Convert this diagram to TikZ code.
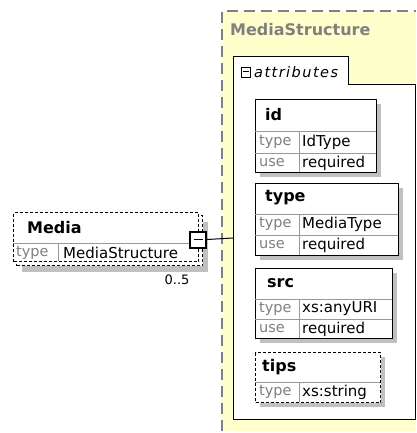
\documentclass[tikz,border=0pt]{standalone}
\usepackage{fontspec}
\usetikzlibrary{calc}
\setmainfont{Liberation Sans}
\newfontfamily\dvs{DejaVu Sans}
\definecolor{ybg}{RGB}{255,255,204}
\definecolor{shd}{RGB}{192,192,192}
\definecolor{lgray}{RGB}{128,128,128}
\begin{document}
\begin{tikzpicture}[x=1pt,y=-1pt,
  hdr/.style={font=\dvs\bfseries\fontsize{16}{16}\selectfont, anchor=west, inner sep=0pt},
  ttl/.style={hdr, text=lgray},
  lbl/.style={font=\dvs\fontsize{14.5}{14.5}\selectfont, text=lgray, anchor=west, inner sep=0pt},
  val/.style={font=\dvs\fontsize{15}{15}\selectfont, anchor=west, inner sep=0pt},
  ebox/.style={draw=black, line width=1.2pt, fill=white},
  edash/.style={ebox, dashed, dash pattern=on 3pt off 2pt},
  sep/.style={draw=lgray!80, line width=0.8pt},
  shadow/.style={fill=shd, draw=none}]
\useasboundingbox (0,0) rectangle (416,433);

% outer MediaStructure region
\fill[ybg] (222,11) rectangle (416,431);
\draw[lgray, line width=1.2pt, dash pattern=on 11pt off 6pt] (222,431) -- (222,11) -- (416,11);
\node[ttl] (msttl) at (230,30) {MediaStructure};

% attributes compartment
\draw[fill=white, line width=1pt] (233,419) -- (233,57) -- (348,57) -- (348,85) -- (415,85) -- (415,419) -- cycle;
\coordinate (attrleft) at (233,238);
\node[draw, line width=1.2pt, minimum width=9pt, minimum height=10pt, inner sep=0pt, anchor=north west] (attrminus) at (241,67) {\rule[2.4pt]{6pt}{1.2pt}};
\node[font=\dvs\itshape\fontsize{14.5}{14.5}\selectfont, anchor=west, inner sep=0pt] (attrlbl) at (254,72) {\addfontfeature{LetterSpace=10}attributes};

% id
\fill[shd] (260,104) rectangle (381,177);
\node[ebox, minimum width=121pt, minimum height=73pt, anchor=north west, inner sep=0pt] (idbox) at (255,99) {};
\draw[sep] (255,131) -- (376,131) (255,153) -- (376,153) (299,131) -- (299,172);
\node[hdr] (idn) at (265,115) {id};
\node[lbl] (idt) at (259,142) {type};
\node[val] (idv) at (302,142) {IdType};
\node[lbl] (idu) at (259,163) {use};
\node[val] (idr) at (302,163) {required};

% type
\fill[shd] (260,188) rectangle (403,260);
\node[ebox, minimum width=143pt, minimum height=72pt, anchor=north west, inner sep=0pt] (typebox) at (255,183) {};
\draw[sep] (255,214) -- (398,214) (255,235) -- (398,235) (299,214) -- (299,255);
\node[hdr] (typen) at (265,198) {type};
\node[lbl] (typet) at (259,224) {type};
\node[val] (typev) at (302,224) {MediaType};
\node[lbl] (typeu) at (259,245) {use};
\node[val] (typer) at (302,245) {required};

% src
\fill[shd] (260,273) rectangle (397,343);
\node[ebox, minimum width=137pt, minimum height=70pt, anchor=north west, inner sep=0pt] (srcbox) at (255,268) {};
\draw[sep] (255,299) -- (392,299) (255,319) -- (392,319) (299,299) -- (299,338);
\node[hdr] (srcn) at (267,283) {src};
\node[lbl] (srct) at (259,309) {type};
\node[val] (srcv) at (302,309) {xs:anyURI};
\node[lbl] (srcu) at (259,329) {use};
\node[val] (srcr) at (302,329) {required};

% tips
\fill[shd] (260,357) rectangle (385,407);
\node[edash, minimum width=125pt, minimum height=50pt, anchor=north west, inner sep=0pt] (tipsbox) at (255,352) {};
\draw[sep] (255,382) -- (380,382) (299,382) -- (299,402);
\node[hdr] (tipsn) at (262,367) {tips};
\node[lbl] (tipst) at (259,392) {type};
\node[val] (tipsv) at (302,392) {xs:string};

% Media element
\fill[shd] (22,222) rectangle (208,272);
\node[edash, minimum width=186pt, minimum height=50pt, anchor=north west, inner sep=0pt] (mediaback) at (16,215) {};
\node[edash, minimum width=185pt, minimum height=49pt, anchor=north west, inner sep=0pt] (media) at (13,212) {};
\draw[sep] (13,243) -- (198,243) (58,243) -- (58,261);
\node[hdr] (median) at (27,228) {Media};
\node[lbl] (mediat) at (16,253) {type};
\node[val] (mediav) at (63,253) {MediaStructure};
\node[val, font=\dvs\fontsize{13}{13}\selectfont, anchor=center] (card) at (177,280) {0..5};

% expand box
\node[draw, fill=white, line width=2pt, minimum width=16pt, minimum height=16pt, inner sep=0pt] (mminus) at (198,239.5) {\rule[-0.75pt]{9pt}{1.8pt}};
\draw[line width=1pt] (mminus.east) -- (attrleft);
\end{tikzpicture}
\end{document}
